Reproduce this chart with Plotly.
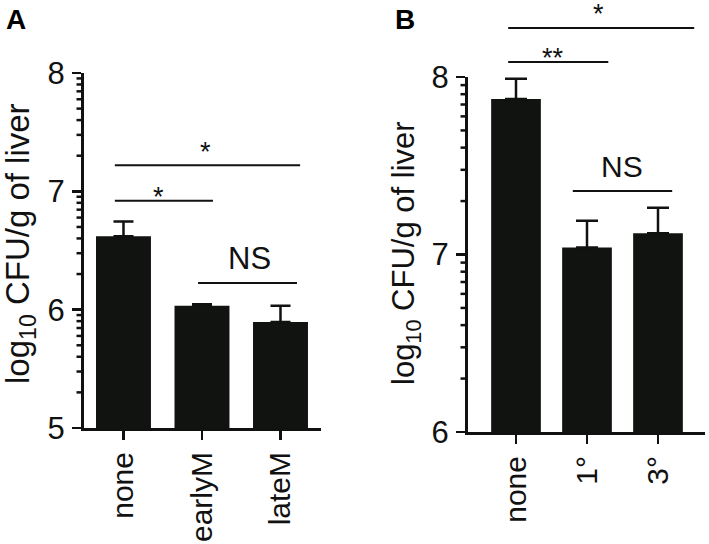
import plotly.graph_objects as go
import math

# ---------------- data ----------------
cats_a = ["none", "earlyM", "lateM"]
vals_a = [6.62, 6.034, 5.896]
err_a = [0.125, 0.012, 0.138]

cats_b = ["none", "1°", "3°"]
vals_b = [7.876, 7.04, 7.12]
err_b = [0.114, 0.15, 0.144]

yticks_a = [5, 6, 7, 8]
yticks_b = [6, 7, 8]

labels_a = ["*", "*", "NS"]
labels_b = ["**", "*", "NS"]

# ---------------- layout config ----------------
W, H = 709, 544
FONT = "Arial, Liberation Sans, Helvetica, sans-serif"
INK = "#111111"
BAR = "#111311"

# bracket geometry: (x0, x1, line_y, text_x, text_y)
br_a = [(-0.11, 1.14, 6.92, 0.45, 6.952), (-0.11, 2.25, 7.22, 1.04, 7.332), (0.95, 2.21, 6.226, 1.61, 6.432)]
br_b = [(-0.11, 1.30, 8.085, 0.52, 8.107), (-0.11, 2.51, 8.276, 1.155, 8.355), (0.80, 2.20, 7.358, 1.49, 7.493)]

dom_ax = [84 / W, 321 / W]
dom_ay = [(H - 428) / H, (H - 73) / H]
dom_bx = [468 / W, 705 / W]
dom_by = [(H - 432) / H, (H - 77) / H]
rng_ay = [5, 8]
rng_by = [6, 8]
MINOR_LEN = 7.5  # px


def log_minor(lo, hi):
    out = []
    for n in range(lo, hi):
        for k in range(2, 10):
            out.append(n + math.log10(k))
    return out


fig = go.Figure()

fig.add_trace(go.Bar(
    x=cats_a, y=vals_a, width=0.7, marker=dict(color=BAR, line=dict(width=0)),
    error_y=dict(type="data", symmetric=False, array=err_a, arrayminus=[0] * 3,
                 color=INK, thickness=2.5, width=10),
    xaxis="x", yaxis="y", showlegend=False, hoverinfo="skip"))

fig.add_trace(go.Bar(
    x=cats_b, y=vals_b, width=0.7, marker=dict(color=BAR, line=dict(width=0)),
    error_y=dict(type="data", symmetric=False, array=err_b, arrayminus=[0] * 3,
                 color=INK, thickness=2.5, width=11),
    xaxis="x2", yaxis="y2", showlegend=False, hoverinfo="skip"))

xtickfont = dict(family=FONT, size=30, color=INK)
ytickfont = dict(family=FONT, size=31, color=INK)

xcommon = dict(showgrid=False, zeroline=False, showline=True, linewidth=3, linecolor=INK,
               ticks="outside", ticklen=9, tickwidth=2.5, tickcolor=INK, automargin=False,
               tickangle=-90, tickfont=xtickfont, ticklabelstandoff=0, fixedrange=True)
ycommon = dict(showgrid=False, zeroline=False, showline=True, linewidth=3, linecolor=INK,
               ticks="outside", ticklen=9, tickwidth=2.5, tickcolor=INK, automargin=False,
               tickfont=ytickfont, ticklabelstandoff=1, fixedrange=True, type="linear")

fig.update_layout(
    width=W, height=H, margin=dict(l=0, r=0, t=0, b=0, autoexpand=False),
    paper_bgcolor="white", plot_bgcolor="white",
    font=dict(family=FONT, color=INK),
    xaxis=dict(domain=dom_ax, anchor="y", range=[-0.503, 2.516], type="category",
               categoryorder="array", categoryarray=cats_a, **xcommon),
    yaxis=dict(domain=dom_ay, anchor="x", range=rng_ay, tickmode="array", tickvals=yticks_a,
               ticktext=[str(v) for v in yticks_a], **ycommon),
    xaxis2=dict(domain=dom_bx, anchor="y2", range=[-0.676, 2.662], type="category",
                categoryorder="array", categoryarray=cats_b, **xcommon),
    yaxis2=dict(domain=dom_by, anchor="x2", range=rng_by, tickmode="array", tickvals=yticks_b,
                ticktext=[str(v) for v in yticks_b], **ycommon),
)


def frac(v, rng):
    return (v - rng[0]) / (rng[1] - rng[0])


shapes = []
annots = []

# log-style minor ticks on the y axes (paper coords derived from the axis scale)
for xdom, ydom, rng, lo, hi in [(dom_ax, dom_ay, rng_ay, 5, 8), (dom_bx, dom_by, rng_by, 6, 8)]:
    for v in log_minor(lo, hi):
        yp = ydom[0] + frac(v, rng) * (ydom[1] - ydom[0])
        shapes.append(dict(type="line", xref="paper", yref="paper",
                           x0=xdom[0] - MINOR_LEN / W, x1=xdom[0],
                           y0=yp, y1=yp, line=dict(color=INK, width=2.5)))

for (x0, x1, ly, tx, ty), lab in zip(br_a, labels_a):
    shapes.append(dict(type="line", xref="x", yref="y domain", x0=x0, x1=x1,
                       y0=frac(ly, rng_ay), y1=frac(ly, rng_ay),
                       line=dict(color=INK, width=2)))
    annots.append(dict(xref="x", yref="y domain", x=tx, y=frac(ty, rng_ay), text=lab,
                       showarrow=False, xanchor="center", yanchor="middle",
                       font=dict(family=FONT, size=27 if lab != "NS" else 31, color=INK)))
for (x0, x1, ly, tx, ty), lab in zip(br_b, labels_b):
    shapes.append(dict(type="line", xref="x2", yref="y2 domain", x0=x0, x1=x1,
                       y0=frac(ly, rng_by), y1=frac(ly, rng_by),
                       line=dict(color=INK, width=2)))
    annots.append(dict(xref="x2", yref="y2 domain", x=tx, y=frac(ty, rng_by), text=lab,
                       showarrow=False, xanchor="center", yanchor="middle",
                       font=dict(family=FONT, size=27 if lab != "NS" else 30, color=INK)))

# y-axis titles
annots.append(dict(xref="paper", yref="paper", x=20 / W, y=(H - 244) / H,
                   text="log<sub>10</sub> CFU/g of liver", textangle=-90, showarrow=False,
                   xanchor="center", yanchor="middle",
                   font=dict(family=FONT, size=33, color=INK)))
annots.append(dict(xref="paper", yref="paper", x=406 / W, y=(H - 253) / H,
                   text="log<sub>10</sub> CFU/g of liver", textangle=-90, showarrow=False,
                   xanchor="center", yanchor="middle",
                   font=dict(family=FONT, size=31, color=INK)))
# panel letters
annots.append(dict(xref="paper", yref="paper", x=4 / W, y=1 - 2 / H, text="<b>A</b>",
                   showarrow=False, xanchor="left", yanchor="top",
                   font=dict(family=FONT, size=28, color="black")))
annots.append(dict(xref="paper", yref="paper", x=393 / W, y=1 - 2 / H, text="<b>B</b>",
                   showarrow=False, xanchor="left", yanchor="top",
                   font=dict(family=FONT, size=28, color="black")))

fig.update_layout(shapes=shapes, annotations=annots)
fig.write_html("out.html", config={"displayModeBar": False, "staticPlot": True},
               post_script="document.body.style.margin='0px';document.body.style.overflow='hidden';")
